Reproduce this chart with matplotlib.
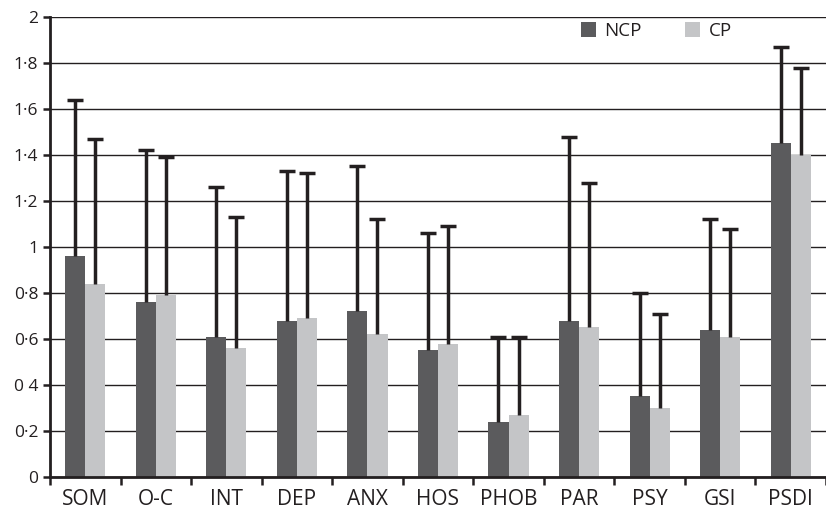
import matplotlib
matplotlib.use("Agg")
import matplotlib.pyplot as plt
import numpy as np

categories = ["SOM", "O-C", "INT", "DEP", "ANX", "HOS", "PHOB", "PAR", "PSY", "GSI", "PSDI"]
ncp_mean = [0.96, 0.76, 0.61, 0.68, 0.72, 0.55, 0.24, 0.68, 0.35, 0.64, 1.45]
cp_mean = [0.84, 0.79, 0.56, 0.69, 0.62, 0.58, 0.27, 0.65, 0.30, 0.61, 1.40]
ncp_sd = [0.68, 0.66, 0.65, 0.65, 0.63, 0.51, 0.37, 0.80, 0.45, 0.48, 0.42]
cp_sd = [0.63, 0.60, 0.57, 0.63, 0.50, 0.51, 0.34, 0.63, 0.41, 0.47, 0.38]
ytick_vals = [0, 0.2, 0.4, 0.6, 0.8, 1.0, 1.2, 1.4, 1.6, 1.8, 2.0]
ytick_labels = ["0", "0·2", "0 4", "0·6", "0·8", "1", "1·2", "1·4", "1·6", "1·8", "2"]

plt.rcParams['font.family'] = ['Open Sans', 'DejaVu Sans']

fig = plt.figure(figsize=(8.26, 5.13), dpi=100)
ax = fig.add_axes([0.0605, 0.0702, 0.9395, 0.8967])

x = np.arange(len(categories))
w = 0.285
dark = "#5b5b5d"
light = "#c4c5c7"
ecol = "#231f20"

ax.bar(x - w/2, ncp_mean, w, color=dark, zorder=3, label="NCP")
ax.bar(x + w/2, cp_mean, w, color=light, zorder=3, label="CP")
for pos, m, sd in [(x - w/2, ncp_mean, ncp_sd), (x + w/2, cp_mean, cp_sd)]:
    eb = ax.errorbar(pos, m, yerr=[np.zeros(len(x)), sd], fmt='none',
                     ecolor=ecol, elinewidth=2.5, capsize=5.5, capthick=2.5, zorder=4)
    caps = eb[1]
    caps[0].set_visible(False)

ax.set_xlim(-0.5, len(categories) - 0.5)
ax.set_ylim(0, 2)
ax.set_yticks(ytick_vals)
ax.set_yticklabels(ytick_labels)
ax.set_xticks(np.arange(-0.5, len(categories), 1.0))
ax.set_xticklabels([])
ax.set_xticks(x, minor=True)
ax.set_xticklabels(categories, minor=True)
ax.tick_params(axis='x', which='major', length=6, width=1.8, color=ecol, direction='out')
ax.tick_params(axis='x', which='minor', length=0, pad=9, labelsize=15, labelcolor="#231f20")
ax.tick_params(axis='y', length=5, width=1.8, color=ecol, direction='out', labelsize=12.5,
               labelcolor="#231f20", pad=3.5)

ax.yaxis.grid(True, color="#231f20", linewidth=1.0, zorder=0)
ax.set_axisbelow(True)
for s in ["top", "right"]:
    ax.spines[s].set_visible(False)
for s in ["left", "bottom"]:
    ax.spines[s].set_color(ecol)
    ax.spines[s].set_linewidth(2.0)
    ax.spines[s].set_zorder(5)

leg = ax.legend(loc="upper left", bbox_to_anchor=(0.683, 0.99), bbox_transform=fig.transFigure,
                ncol=2, frameon=False, handlelength=0.8, handleheight=0.85,
                handletextpad=0.45, columnspacing=2.3, fontsize=13.5)
for t in leg.get_texts():
    t.set_color("#231f20")

fig.savefig("out.png", dpi=100)
